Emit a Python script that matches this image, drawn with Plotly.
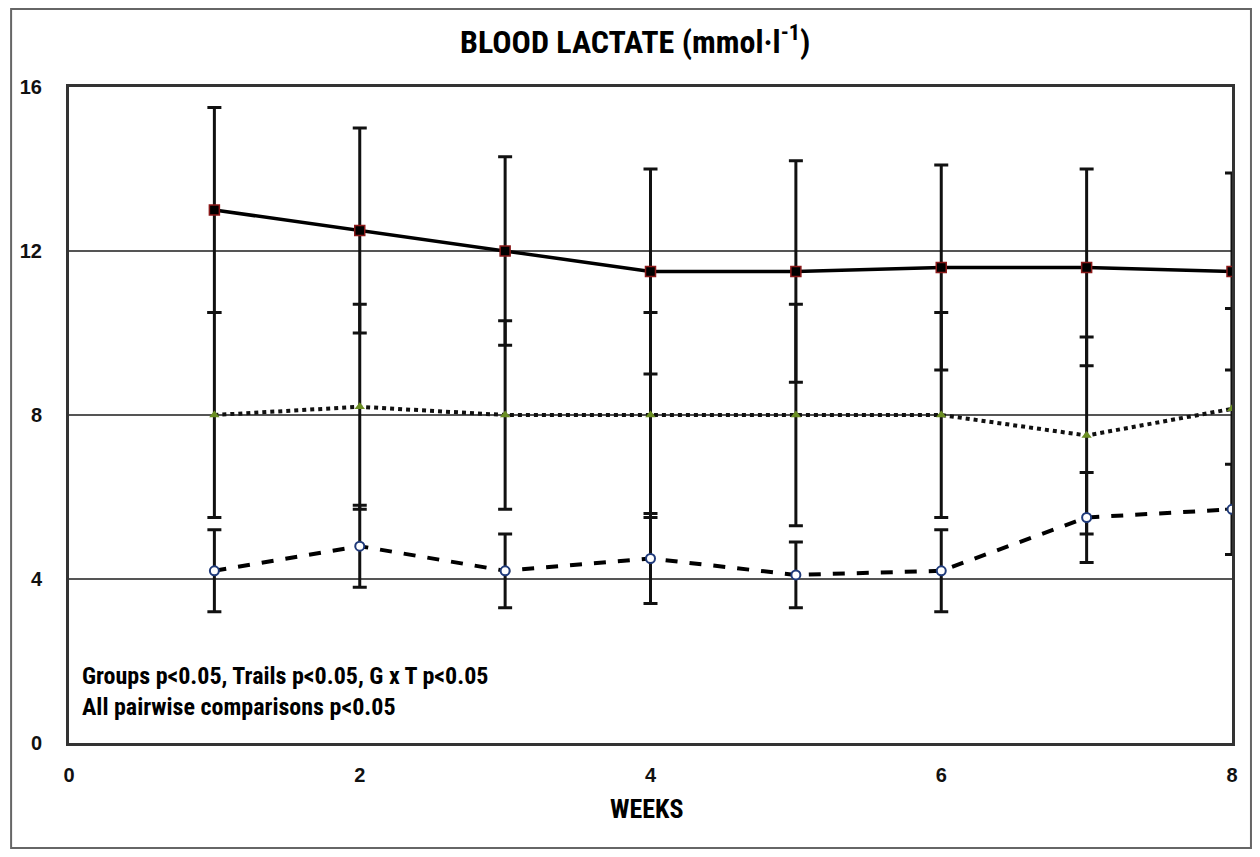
import plotly.graph_objects as go

weeks = [1, 2, 3, 4, 5, 6, 7, 8]
high_vals = [13.0, 12.5, 12.0, 11.5, 11.5, 11.6, 11.6, 11.5]
high_err = [2.5, 2.5, 2.3, 2.5, 2.7, 2.5, 2.4, 2.4]
mid_vals = [8.0, 8.2, 8.0, 8.0, 8.0, 8.0, 7.5, 8.15]
mid_err = [2.5, 2.5, 2.3, 2.5, 2.7, 2.5, 2.4, 2.45]
low_vals = [4.2, 4.8, 4.2, 4.5, 4.1, 4.2, 5.5, 5.7]
low_err = [1.0, 1.0, 0.9, 1.1, 0.8, 1.0, 1.1, 1.1]

x_ticks = [0, 2, 4, 6, 8]
y_ticks = [0, 4, 8, 12, 16]

COND = "Roboto Condensed, Noto Sans Condensed, Roboto, sans-serif"
TICKF = "Liberation Sans, Arial, sans-serif"

fig = go.Figure()

def eb(arr):
    return dict(type="data", array=arr, visible=True, color="#111", thickness=3, width=7)

fig.add_trace(go.Scatter(
    x=weeks, y=high_vals, mode="lines+markers",
    line=dict(color="#000", width=3.5, dash="solid"),
    marker=dict(symbol="square", size=10, color="#000", line=dict(color="#8b1a1a", width=1.5)),
    error_y=eb(high_err), showlegend=False))
fig.add_trace(go.Scatter(
    x=weeks, y=mid_vals, mode="lines+markers",
    line=dict(color="#111", width=4, dash="dot"),
    marker=dict(symbol="triangle-up", size=9, color="#6b8e23"),
    error_y=eb(mid_err), showlegend=False))
fig.add_trace(go.Scatter(
    x=weeks, y=low_vals, mode="lines+markers",
    line=dict(color="#000", width=4, dash="dash"),
    marker=dict(symbol="circle", size=9, color="#fff", line=dict(color="#1f3a7a", width=2)),
    error_y=eb(low_err), showlegend=False))

# outer image frame (figure edges)
fig.add_shape(type="rect", xref="paper", yref="paper",
              x0=(1 - 59) / 1165, x1=(1243 - 59) / 1165,
              y0=(735 - 840) / 656, y1=(735 - 1) / 656,
              line=dict(color="#666", width=2), layer="below")

fig.add_annotation(
    text="<b>BLOOD LACTATE (mmol·l<sup>-1</sup>)</b>",
    xref="paper", yref="paper", x=(634 - 67) / 1165, y=(743 - 40) / 656,
    showarrow=False, font=dict(family=COND, size=32, color="#000"),
    xanchor="center", yanchor="middle")

fig.add_annotation(
    text="<b>WEEKS</b>", xref="paper", yref="paper",
    x=(645 - 67) / 1165, y=(743 - 809) / 656, showarrow=False,
    font=dict(family=COND, size=26, color="#000"), xanchor="center", yanchor="middle")

fig.add_annotation(
    text="<b>Groups p<0.05, Trails p<0.05, G x T p<0.05</b><br><b>All pairwise comparisons p<0.05</b>",
    xref="paper", yref="paper", x=(78 - 67) / 1165, y=(743 - 691) / 656,
    showarrow=False, align="left", font=dict(family=COND, size=24, color="#000"),
    xanchor="left", yanchor="middle")

fig.update_layout(
    width=1244, height=841,
    margin=dict(l=59, r=20, t=79, b=106),
    paper_bgcolor="#fff", plot_bgcolor="#fff",
    xaxis=dict(range=[0, 8], tickvals=x_ticks, ticktext=[f"<b>{v}</b>" for v in x_ticks],
               showgrid=False, zeroline=False, showline=True, mirror=True,
               linecolor="#333", linewidth=3, ticks="", ticklabelstandoff=12,
               tickfont=dict(family=TICKF, size=20, color="#111")),
    yaxis=dict(range=[0, 16], tickvals=y_ticks, ticktext=[f"<b>{v}</b>" for v in y_ticks],
               showgrid=True, gridcolor="#555", gridwidth=2, zeroline=False,
               showline=True, mirror=True, linecolor="#333", linewidth=3, ticks="",
               ticklabelstandoff=20,
               tickfont=dict(family=TICKF, size=20, color="#111")),
)

fig.write_html("out.html")
